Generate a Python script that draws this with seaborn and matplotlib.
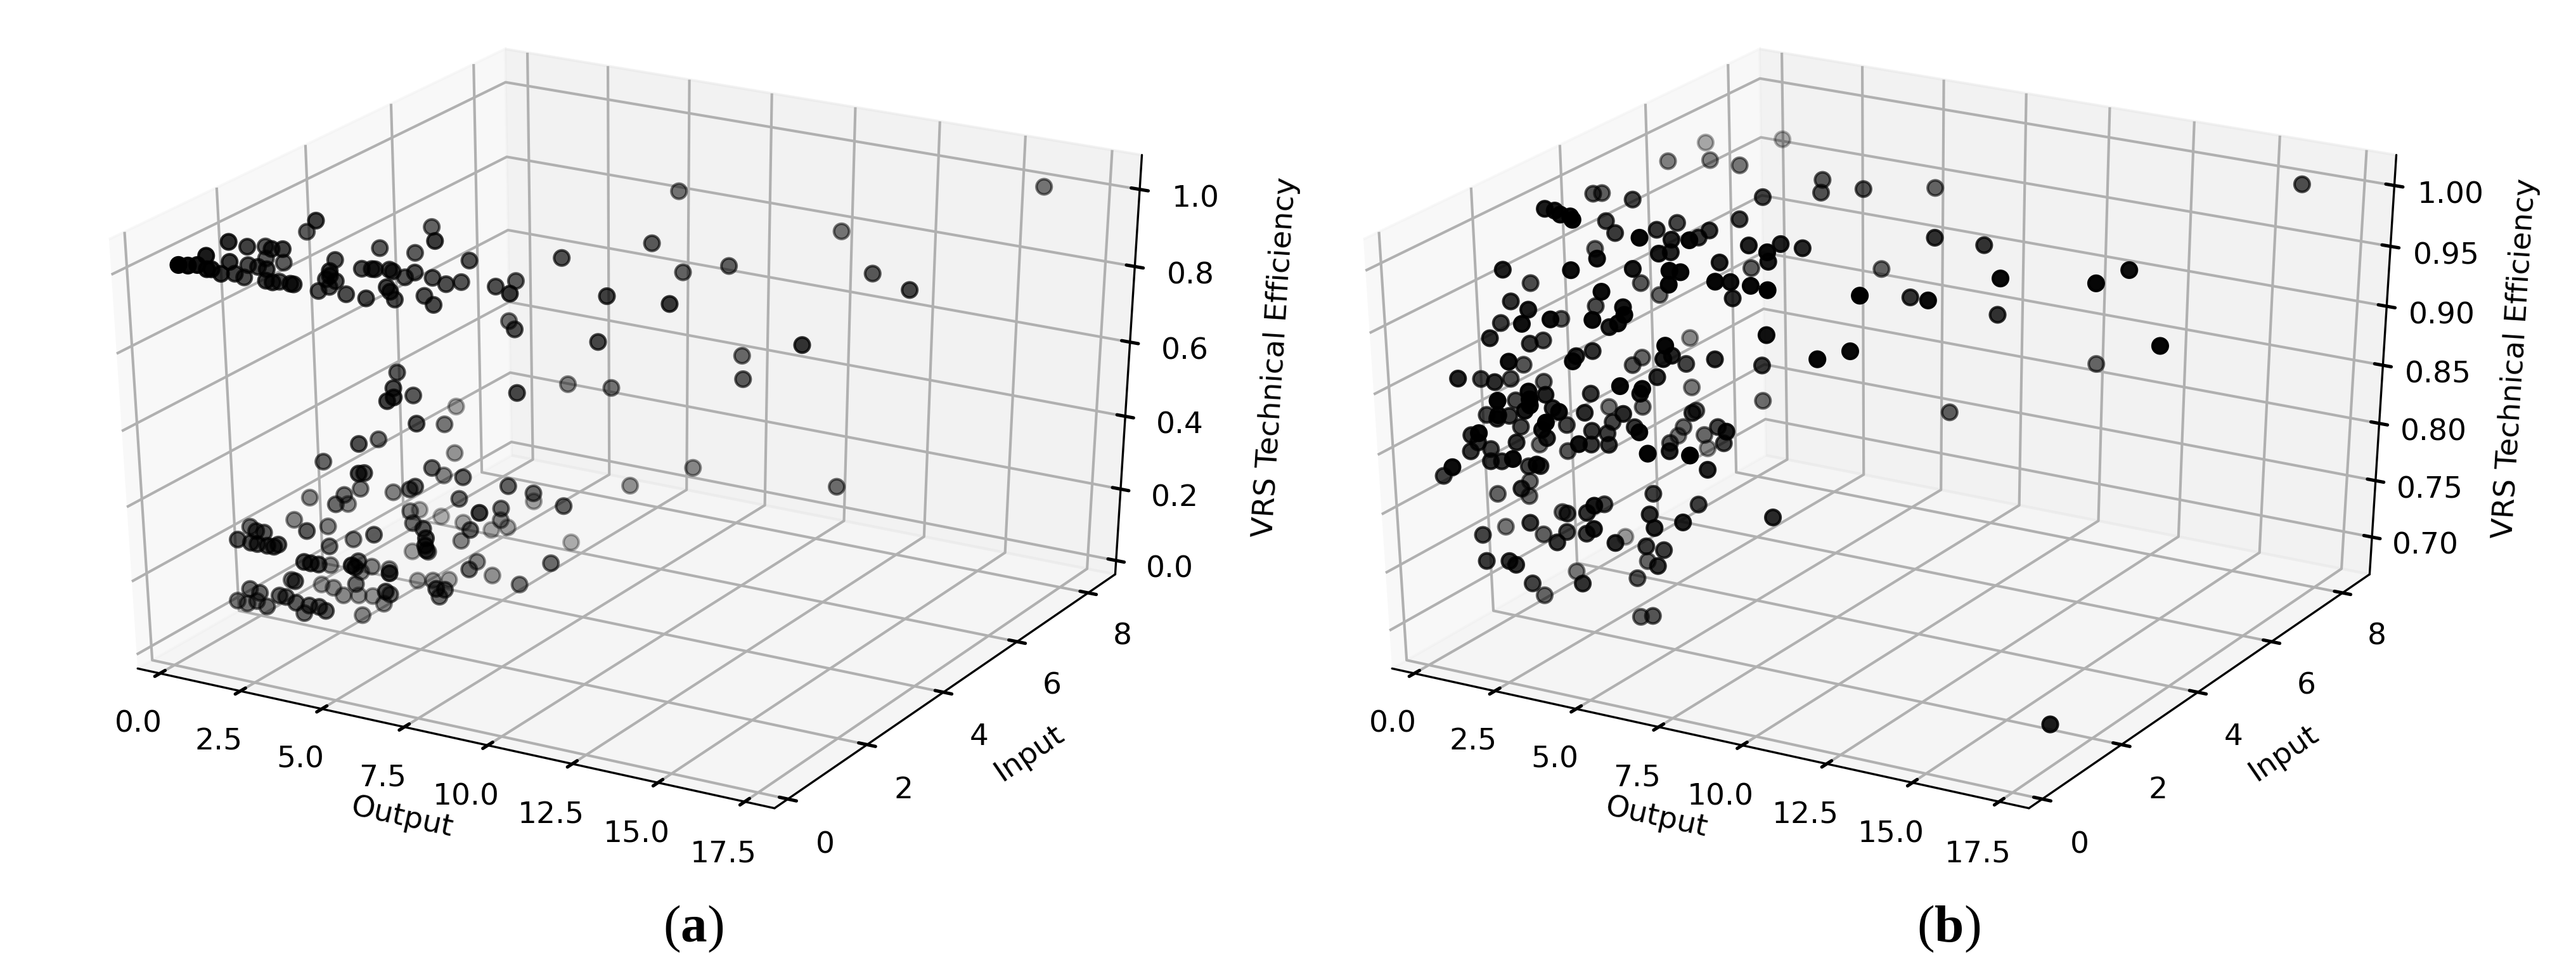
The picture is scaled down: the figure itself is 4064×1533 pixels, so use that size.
import numpy as np
import matplotlib
matplotlib.use("Agg")
import matplotlib.pyplot as plt
import seaborn as sns

# panel a, output and input in tenths, efficiency in thousandths
output_a = [13,6,0,0,0,6,8,0,0,0,0,0,0,0,0,
    0,0,0,3,7,0,4,8,10,8,14,15,17,22,22,
    18,21,19,17,24,30,25,28,29,32,33,24,32,32,42,
    37,34,41,45,47,47,35,36,36,41,45,56,57,64,56,
    64,67,40,44,48,46,46,72,71,84,42,52,50,41,39,
    30,49,55,52,63,46,45,37,36,36,33,24,43,52,55,
    63,74,79,69,88,92,48,43,47,78,73,54,61,55,70,
    61,69,66,62,79,23,35,32,19,25,26,22,26,28,31,
    33,33,41,50,39,67,68,67,47,61,42,44,45,35,55,
    49,52,45,43,65,49,31,39,32,37,48,40,42,45,61,
    57,51,51,57,58,71,71,68,68,72,70,82,89,21,25,
    28,24,27,30,34,36,39,40,43,46,48,47,80,120,161,
    84,92,102,136,149,84,100,85,112,134,117,106,145]
input_a = [27,30,17,21,25,22,23,12,6,8,10,12,13,15,17,
    18,20,21,21,20,25,26,19,19,22,20,20,28,23,23,
    25,25,25,24,25,25,28,28,28,29,29,33,35,39,32,
    31,31,32,32,34,36,26,26,27,30,29,35,39,32,38,
    33,42,24,20,17,17,23,27,40,40,36,19,27,14,20,
    14,30,20,25,21,10,12,17,14,12,17,15,20,17,16,
    20,23,25,33,25,38,20,26,28,13,22,16,13,27,17,
    29,25,29,21,34,12,6,13,5,2,3,0,0,0,0,
    0,1,12,10,8,9,8,9,21,14,0,0,1,11,1,
    7,4,13,12,2,14,5,0,11,10,7,10,12,13,4,
    8,11,19,18,21,8,10,11,20,15,22,19,21,0,0,
    0,0,0,0,0,0,0,1,0,0,0,9,60,67,83,
    50,51,54,61,59,39,41,36,49,45,45,42,45]
eff_a = [996,940,978,943,921,941,938,971,982,969,959,937,931,908,927,
    891,870,896,896,902,890,880,880,879,860,876,876,896,904,892,
    865,865,847,839,836,835,886,890,891,889,886,909,898,942,961,
    878,861,865,855,852,896,866,856,830,830,819,849,842,861,742,
    763,900,665,655,656,643,621,647,589,601,505,582,527,541,512,
    475,430,464,407,447,497,484,396,397,385,348,362,378,421,440,
    396,430,407,316,389,367,336,292,268,431,375,341,358,272,345,
    250,317,266,275,216,320,351,312,340,359,350,344,343,343,344,
    345,344,300,342,304,370,359,338,219,290,321,321,313,226,329,
    289,298,227,216,320,221,219,264,168,175,226,160,150,147,250,
    208,151,160,178,162,249,233,202,236,256,189,207,264,178,217,
    212,176,188,179,216,216,206,173,206,208,201,126,991,910,999,
    919,851,866,860,850,846,840,747,678,766,649,414,413]

# panel b
output_b = [10,
    10,19,28,26,4,4,16,4,7,10,13,15,13,17,31,
    27,28,45,43,39,37,42,34,34,35,8,22,0,18,30,
    0,41,43,23,42,26,27,2,52,60,59,59,63,47,45,
    52,54,60,65,52,73,53,55,64,86,90,100,67,63,82,
    88,77,90,101,114,136,141,111,156,130,103,10,0,12,18,
    9,28,17,32,35,33,29,2,10,10,25,24,27,13,5,
    47,45,45,44,31,54,28,29,0,0,7,5,11,43,41,
    39,45,43,33,28,20,16,9,23,23,21,20,4,16,10,
    11,23,29,13,29,25,23,25,13,30,24,39,33,32,34,
    41,49,6,14,8,9,17,7,13,15,24,19,27,24,36,
    33,37,23,54,45,54,64,44,41,52,48,49,57,66,60,
    46,64,11,1,15,22,9,58,50,16,61,44,39,26,33,
    39,54,64,27,11,15,24,35,34,40,45,58,33,50,54,
    58,49,60,51,20,27,29,31,45,31,29,53,58,82,162,
    165]
input_b = [61,
    52,55,55,67,39,41,39,28,28,27,27,26,35,34,29,
    36,40,47,43,39,38,32,34,31,33,36,26,21,23,28,
    27,28,29,35,27,37,23,21,38,36,37,40,42,35,44,
    30,32,32,32,34,53,55,53,56,37,46,42,30,32,30,
    33,63,52,55,48,53,57,50,52,59,45,19,20,16,18,
    27,20,29,24,22,22,23,16,19,22,22,19,16,12,21,
    22,23,25,29,40,28,31,28,10,15,13,18,21,23,16,
    34,18,19,27,19,11,7,16,9,9,14,10,13,7,11,
    13,14,11,14,8,10,17,11,18,16,26,18,20,16,18,
    19,14,8,4,8,10,10,7,7,8,4,11,7,10,10,
    15,16,17,12,24,17,14,28,29,24,28,29,26,21,25,
    32,18,0,5,14,7,11,36,16,13,18,7,13,13,9,
    9,12,12,5,11,3,10,5,8,8,6,10,22,7,11,
    12,15,9,11,0,0,0,12,3,2,6,10,9,19,83,
    18]
eff_b = [999,
    999,999,999,999,992,989,993,999,999,999,999,999,981,975,987,
    979,978,995,983,979,974,985,978,972,970,954,971,960,965,963,
    938,967,965,935,958,923,952,935,975,977,967,976,971,964,942,
    960,957,957,956,939,939,999,993,995,953,937,947,924,893,912,
    916,990,975,969,961,959,965,926,920,878,850,936,918,931,934,
    913,935,924,940,939,931,924,914,908,905,904,905,908,908,884,
    920,906,905,890,884,901,883,883,891,881,886,878,873,890,895,
    858,891,884,852,876,889,887,866,888,883,881,875,857,875,861,
    860,871,877,850,874,862,851,853,827,867,849,867,853,853,848,
    855,865,851,865,846,837,847,840,835,834,849,826,840,831,856,
    844,844,829,854,834,846,854,839,828,863,855,833,850,861,840,
    814,834,843,820,805,817,797,853,810,795,803,815,801,787,798,
    802,803,802,795,770,782,773,783,785,787,798,798,751,787,778,
    775,754,769,749,769,773,771,741,758,752,732,719,725,802,999,
    677]

output_ticks = [0, 2.5, 5, 7.5, 10, 12.5, 15, 17.5]
input_ticks = [0, 2, 4, 6, 8]
eff_ticks_a = [0, 0.2, 0.4, 0.6, 0.8, 1.0]
eff_ticks_b = [0.70, 0.75, 0.80, 0.85, 0.90, 0.95, 1.00]

sns.set_theme(style="ticks", rc={"font.family": "DejaVu Sans", "axes.grid": True, "grid.color": "#b0b0b0",
    "grid.linewidth": 1.0, "axes.edgecolor": "black", "axes.linewidth": 0.8, "xtick.color": "black", "ytick.color": "black",
    "text.color": "black", "axes.labelcolor": "black", "font.size": 11.3, "xtick.labelsize": 11.3, "ytick.labelsize": 11.3,
    "axes.labelsize": 11.3, "mathtext.fontset": "custom", "mathtext.bf": "Liberation Serif:bold", "mathtext.rm": "Liberation Serif"})

W, H = 4064.0, 1533.0
fig = plt.figure(figsize=(W/300, H/300), dpi=300)
dot = sns.color_palette(["black"])[0]


def panel(left, xs, ys, zs, zticks, zlim, zpad):
    ax = fig.add_subplot(projection="3d")
    # the box of the original fills a wide rectangle, not a square
    ax.apply_aspect = lambda position=None: None
    ax.set_position([left/W, 1-(22+1298)/H, 1950/W, 1298/H])
    ax.set_box_aspect((1, 1, 1))
    ax.set_facecolor("none")
    ax.scatter(np.array(xs)/10, np.array(ys)/10, np.array(zs)/1000, color=dot, s=33)
    ax.set_xlim(-0.7, 18.35)
    ax.set_ylim(-0.33, 8.78)
    ax.set_zlim(*zlim)
    ax.set_xticks(output_ticks)
    ax.set_yticks(input_ticks)
    ax.set_zticks(zticks)
    ax.set_xlabel("Output")
    ax.set_ylabel("Input")
    ax.set_zlabel("VRS Technical Efficiency", labelpad=zpad)
    for axis in (ax.xaxis, ax.yaxis, ax.zaxis):
        axis._axinfo["tick"]["inward_factor"] = 0.16
        axis._axinfo["tick"]["outward_factor"] = 0.16
    return ax


panel(0, output_a, input_a, eff_a, eff_ticks_a, (-0.039, 1.088), 10)
panel(1979, output_b, input_b, eff_b, eff_ticks_b, (0.6666, 1.0248), 7)

fig.text(422/1568, 1-565/591, r"($\mathbf{a}$)", family="Liberation Serif", size=20, ha="center", va="center")
fig.text(1186/1568, 1-565/591, r"($\mathbf{b}$)", family="Liberation Serif", size=20, ha="center", va="center")

fig.savefig("out.png", dpi=300)
